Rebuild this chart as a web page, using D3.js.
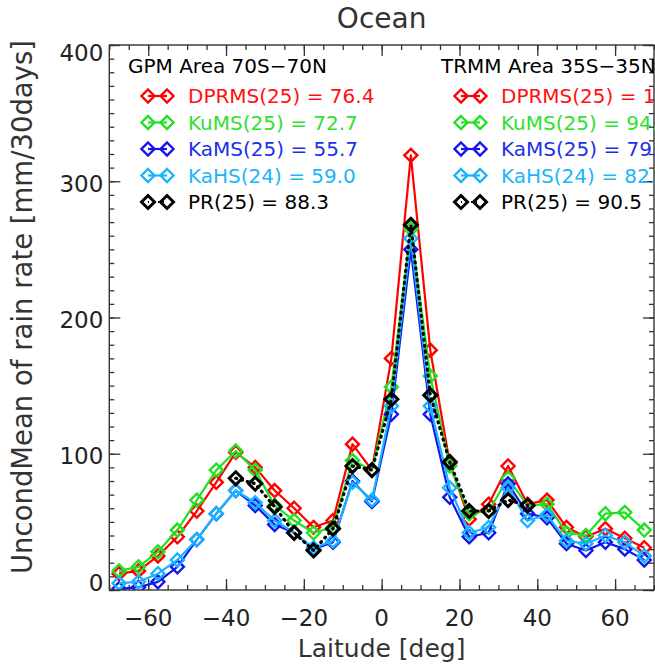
<!DOCTYPE html>
<html>
<head>
<meta charset="utf-8">
<script src="https://cdn.jsdelivr.net/npm/d3@7"></script>
<style>
  html, body { margin: 0; padding: 0; background: #fff; }
  svg { display: block; font-family: "DejaVu Sans", sans-serif; }
</style>
</head>
<body>
<svg id="chart" width="655" height="666"></svg>
<script>
// Latitude bin centres (deg)
const lat = [-67.5, -62.5, -57.5, -52.5, -47.5, -42.5, -37.5, -32.5, -27.5, -22.5,
             -17.5, -12.5, -7.5, -2.5, 2.5, 7.5, 12.5, 17.5, 22.5, 27.5,
             32.5, 37.5, 42.5, 47.5, 52.5, 57.5, 62.5, 67.5];
// TRMM PR covers only the tropics
const latPR = [-37.5, -32.5, -27.5, -22.5, -17.5, -12.5, -7.5, -2.5,
               2.5, 7.5, 12.5, 17.5, 22.5, 27.5, 32.5, 37.5];

// Unconditional mean rain rate [mm/30days]
const dprms = [12, 14, 25, 39, 58, 79, 101, 90, 73, 60, 46, 51, 107, 88,
               170, 319, 176, 93, 52, 63, 91, 63, 66, 46, 39, 45, 38, 31];
const kums  = [14, 17, 28, 44, 66, 88, 102, 88, 62, 51, 42, 46, 95, 88,
               149, 265, 157, 91, 56, 58, 82, 62, 63, 42, 40, 56, 57, 44];
const kams  = [1, 2, 6, 17, 37, 56, 73, 62, 48, 42, 30, 35, 80, 65,
               129, 250, 129, 68, 39, 42, 78, 56, 53, 34, 29, 35, 30, 22];
const kahs  = [5, 6, 12, 22, 37, 56, 73, 64, 51, 42, 31, 36, 79, 66,
               135, 258, 135, 75, 42, 46, 75, 51, 55, 36, 34, 40, 35, 25];
const pr    = [82, 78, 61, 42, 29, 45, 91, 88, 140, 268, 143, 94, 58, 58, 66, 62];

// Legend texts
const gpmHeader  = "GPM Area 70S\u221270N";
const trmmHeader = "TRMM Area 35S\u221235N";
const gpmLabels  = ["DPRMS(25) = 76.4", "KuMS(25) = 72.7", "KaMS(25) = 55.7", "KaHS(24) = 59.0", "PR(25) = 88.3"];
const trmmLabels = ["DPRMS(25) = 101.6", "KuMS(25) = 94.3", "KaMS(25) = 79.2", "KaHS(24) = 82.4", "PR(25) = 90.5"];

const xTicks = [-60, -40, -20, 0, 20, 40, 60];
const yTicks = [0, 100, 200, 300, 400];

const series = [
  { name: "DPRMS", x: lat,   y: dprms, color: "#ff0000", text: "#ff1010", dotted: false },
  { name: "KuMS",  x: lat,   y: kums,  color: "#22e022", text: "#30e030", dotted: false },
  { name: "KaMS",  x: lat,   y: kams,  color: "#1414f0", text: "#2030e8", dotted: false },
  { name: "KaHS",  x: lat,   y: kahs,  color: "#18b4ff", text: "#20b4f8", dotted: false },
  { name: "PR",    x: latPR, y: pr,    color: "#000000", text: "#000000", dotted: true }
];

const svg = d3.select("#chart");
const L = 109.3, R = 654, T = 45, B = 590;
const x = d3.scaleLinear().domain([-70, 70]).range([L, R]);
const y = d3.scaleLinear().domain([0, 400]).range([B, T]);

const axisColor = "#333";

// Title
svg.append("text").attr("x", (L + R) / 2).attr("y", 28)
  .attr("text-anchor", "middle").attr("font-size", 28).attr("fill", "#333")
  .text("Ocean");

// Clip region for plotted data
svg.append("defs").append("clipPath").attr("id", "plotclip")
  .append("rect").attr("x", L).attr("y", T).attr("width", R - L).attr("height", B - T);

// Ticks (inward, on all four sides)
function tickGroup(axis, tx, ty) {
  const g = svg.append("g").attr("transform", `translate(${tx},${ty})`).call(axis);
  g.select(".domain").remove();
  g.selectAll(".tick line").attr("stroke", axisColor).attr("stroke-width", 1.3);
  g.selectAll(".tick text").remove();
  return g;
}
const xMinor = d3.range(-70, 70.1, 5);
const yMinor = d3.range(0, 400.1, 10);
tickGroup(d3.axisBottom(x).tickValues(xMinor).tickSize(-5), 0, B);
tickGroup(d3.axisBottom(x).tickValues(xTicks).tickSize(-11), 0, B);
tickGroup(d3.axisTop(x).tickValues(xMinor).tickSize(-5), 0, T);
tickGroup(d3.axisTop(x).tickValues(xTicks).tickSize(-11), 0, T);
tickGroup(d3.axisLeft(y).tickValues(yMinor).tickSize(-5), L, 0);
tickGroup(d3.axisLeft(y).tickValues(yTicks).tickSize(-11), L, 0);
tickGroup(d3.axisRight(y).tickValues(yMinor).tickSize(-5), R, 0);
tickGroup(d3.axisRight(y).tickValues(yTicks).tickSize(-11), R, 0);

// Tick labels
svg.append("g").selectAll("text").data(xTicks).join("text")
  .attr("x", d => x(d)).attr("y", 626)
  .attr("text-anchor", "middle").attr("font-size", 23).attr("fill", "#222")
  .text(d => d3.format("")(d));
svg.append("g").selectAll("text").data(yTicks).join("text")
  .attr("x", L - 6).attr("y", d => Math.min(Math.max(y(d) + 2, 53), 583))
  .attr("dy", "0.36em")
  .attr("text-anchor", "end").attr("font-size", 23).attr("fill", "#222")
  .text(d => d);

// Axis titles
svg.append("text").attr("x", (L + R) / 2).attr("y", 657)
  .attr("text-anchor", "middle").attr("font-size", 25).attr("fill", "#333")
  .text("Laitude [deg]");
svg.append("text").attr("transform", `translate(32,${307}) rotate(-90)`)
  .attr("text-anchor", "middle").attr("font-size", 27.5).attr("fill", "#333")
  .text("UncondMean of rain rate [mm/30days]");

// Diamond marker path
const diamond = (cx, cy, r) => `M${cx},${cy - r}L${cx + r},${cy}L${cx},${cy + r}L${cx - r},${cy}Z`;

// Series lines and markers
const plot = svg.append("g").attr("clip-path", "url(#plotclip)");
series.forEach(s => {
  const pts = s.x.map((v, i) => [v, s.y[i]]);
  const line = d3.line().x(d => x(d[0])).y(d => y(d[1]));
  plot.append("path").datum(pts)
    .attr("d", line).attr("fill", "none")
    .attr("stroke", s.color)
    .attr("stroke-width", s.dotted ? 3.2 : 2.2)
    .attr("stroke-dasharray", s.dotted ? "1,5" : null)
    .attr("stroke-linecap", s.dotted ? "round" : "butt")
    .attr("stroke-linejoin", "round");
  plot.append("g").selectAll("path").data(pts).join("path")
    .attr("d", d => diamond(x(d[0]), y(d[1]), 6.5))
    .attr("fill", "none").attr("stroke", s.color)
    .attr("stroke-width", s.dotted ? 3 : 2.4);
});

// Frame
svg.append("rect").attr("x", L).attr("y", T).attr("width", R - L).attr("height", B - T)
  .attr("fill", "none").attr("stroke", axisColor).attr("stroke-width", 1.4);

// Legends
function legend(x0, header, labels) {
  const g = svg.append("g");
  g.append("text").attr("x", x0).attr("y", 73)
    .attr("font-size", 20).attr("fill", "#000").text(header);
  series.forEach((s, i) => {
    const cy = 96 + i * 26.5;
    const c1 = x0 + 20, c2 = x0 + 39;
    g.append("line").attr("x1", c1).attr("x2", c2).attr("y1", cy).attr("y2", cy)
      .attr("stroke", s.color).attr("stroke-width", 2.2)
      .attr("stroke-dasharray", s.dotted ? "1,4" : null);
    [c1, c2].forEach(cx => g.append("path").attr("d", diamond(cx, cy, 6.5))
      .attr("fill", "none").attr("stroke", s.color).attr("stroke-width", s.dotted ? 3 : 2.4));
    g.append("text").attr("x", x0 + 60).attr("y", cy).attr("dy", "0.36em")
      .attr("font-size", 20).attr("fill", s.text).text(labels[i]);
  });
}
legend(128, gpmHeader, gpmLabels);
legend(441, trmmHeader, trmmLabels);
</script>
</body>
</html>
